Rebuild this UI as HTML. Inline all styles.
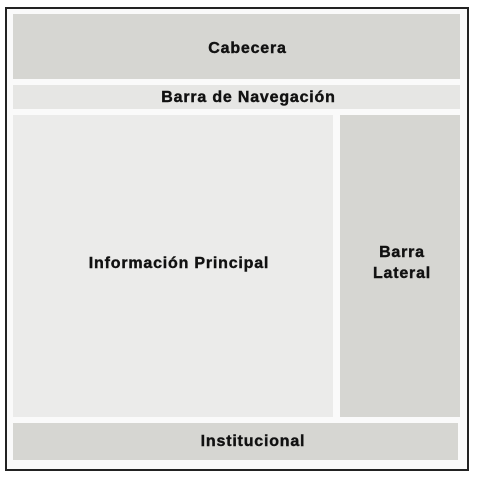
<!DOCTYPE html>
<html><head><style>
body{margin:0;width:480px;height:481px;background:#fff;position:relative;overflow:hidden;font-family:"Liberation Sans",Arial,sans-serif;font-weight:bold;color:#111}
div{position:absolute;box-sizing:border-box}
.b{display:flex;align-items:center;justify-content:center;text-align:center;font-size:16px;line-height:21px;letter-spacing:0.8px;-webkit-text-stroke:0.4px #111}
</style></head><body>
<div style="left:5px;top:7px;width:464px;height:464px;border:2.5px solid #222;background:#fafafa"></div>
<div class="b" style="left:13px;top:14px;width:447px;height:65px;background:#d6d6d2;padding-left:22px;padding-top:3px">Cabecera</div>
<div class="b" style="left:13px;top:85px;width:447px;height:24px;background:#e6e6e4;padding-left:24px">Barra de Navegación</div>
<div class="b" style="left:13px;top:115px;width:320px;height:302px;background:#ebebea;padding-bottom:6px;padding-left:12px">Información Principal</div>
<div class="b" style="left:340px;top:115px;width:120px;height:302px;background:#d6d6d2;padding-bottom:6px;padding-left:4px">Barra<br>Lateral</div>
<div class="b" style="left:13px;top:423px;width:445px;height:37px;background:#d6d6d2;padding-left:35px">Institucional</div>
</body></html>
